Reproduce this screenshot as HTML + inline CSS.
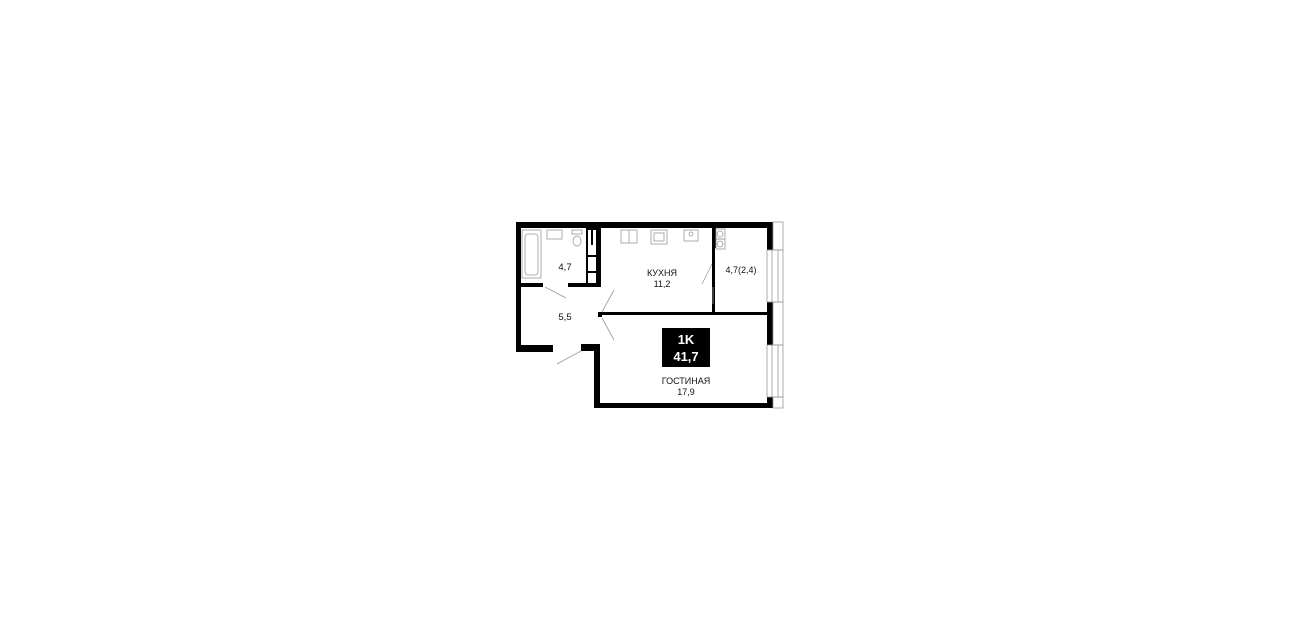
<!DOCTYPE html>
<html><head><meta charset="utf-8"><style>
html,body{margin:0;padding:0;background:#fff;width:1301px;height:630px;overflow:hidden}
svg{display:block}
text{font-family:"Liberation Sans",sans-serif;fill:#111}
</style></head><body>
<svg width="1301" height="630" viewBox="0 0 1301 630">
<g fill="#000">
<rect x="516" y="222" width="257" height="6"/>
<rect x="516" y="222" width="5" height="130"/>
<rect x="516" y="345" width="37" height="7"/>
<rect x="581" y="344" width="19" height="7"/>
<rect x="594" y="344" width="6" height="64"/>
<rect x="594" y="403" width="179" height="5"/>
<rect x="767" y="222" width="6" height="28"/>
<rect x="767" y="302" width="6" height="43"/>
<rect x="767" y="397" width="6" height="11"/>
<rect x="521" y="283" width="22" height="4"/>
<rect x="568" y="283" width="33" height="4"/>
<rect x="597" y="228" width="4" height="59"/>
<rect x="600" y="312" width="170" height="3"/>
<rect x="598" y="312" width="4" height="5"/>
<rect x="712" y="228" width="4" height="20"/>
<rect x="712" y="248" width="3" height="66"/>
</g>
<g fill="none" stroke="#000" stroke-width="2">
<rect x="587" y="229" width="10" height="55"/>
<line x1="587" y1="256" x2="597" y2="256"/><line x1="587" y1="272" x2="597" y2="272"/>
<line x1="592" y1="229" x2="592" y2="245"/>
</g>
<g fill="none" stroke="#999" stroke-width="0.8">
<rect x="773" y="222" width="10" height="28"/>
<rect x="767" y="250" width="16" height="52"/>
<line x1="772" y1="250" x2="772" y2="302"/><line x1="778" y1="250" x2="778" y2="302"/>
<rect x="773" y="302" width="10" height="43"/>
<rect x="767" y="345" width="16" height="52"/>
<line x1="772" y1="345" x2="772" y2="397"/><line x1="778" y1="345" x2="778" y2="397"/>
<rect x="773" y="397" width="10" height="11"/>
<rect x="522" y="230" width="19" height="48"/>
<rect x="525" y="234" width="13" height="41" rx="3"/>
<rect x="547" y="230" width="15" height="9"/>
<rect x="572" y="230" width="10" height="4"/>
<ellipse cx="577" cy="241" rx="4" ry="5"/>
<rect x="621" y="230" width="16" height="13"/>
<line x1="629" y1="230" x2="629" y2="243"/>
<rect x="651" y="230" width="16" height="14"/>
<rect x="654" y="233" width="10" height="8"/>
<rect x="684" y="230" width="14" height="11"/>
<circle cx="691" cy="234" r="2"/>
<rect x="716" y="229" width="9" height="10"/>
<rect x="716" y="239" width="9" height="10"/>
<circle cx="720" cy="234" r="3"/><circle cx="720" cy="244" r="3"/>
<line x1="545" y1="287" x2="566" y2="298"/>
<line x1="614" y1="290" x2="602" y2="312"/>
<line x1="602" y1="318" x2="614" y2="340"/>
<line x1="581" y1="351" x2="557" y2="364"/>
<line x1="712" y1="264" x2="702" y2="284"/>
<line x1="713" y1="287" x2="713" y2="304"/>
</g>
<text x="565" y="270" font-size="9.5" text-anchor="middle">4,7</text>
<text x="662" y="276" font-size="9" text-anchor="middle">КУХНЯ</text>
<text x="662" y="287" font-size="9" text-anchor="middle">11,2</text>
<text x="741" y="273" font-size="9" text-anchor="middle">4,7(2,4)</text>
<text x="565" y="320" font-size="9.5" text-anchor="middle">5,5</text>
<rect x="662" y="328" width="48" height="39" fill="#000"/>
<text x="686" y="344" font-size="13" font-weight="bold" text-anchor="middle" style="fill:#fff">1K</text>
<text x="686" y="361" font-size="13" font-weight="bold" text-anchor="middle" style="fill:#fff">41,7</text>
<text x="686" y="384" font-size="9" text-anchor="middle">ГОСТИНАЯ</text>
<text x="686" y="395" font-size="9" text-anchor="middle">17,9</text>
</svg>
</body></html>
